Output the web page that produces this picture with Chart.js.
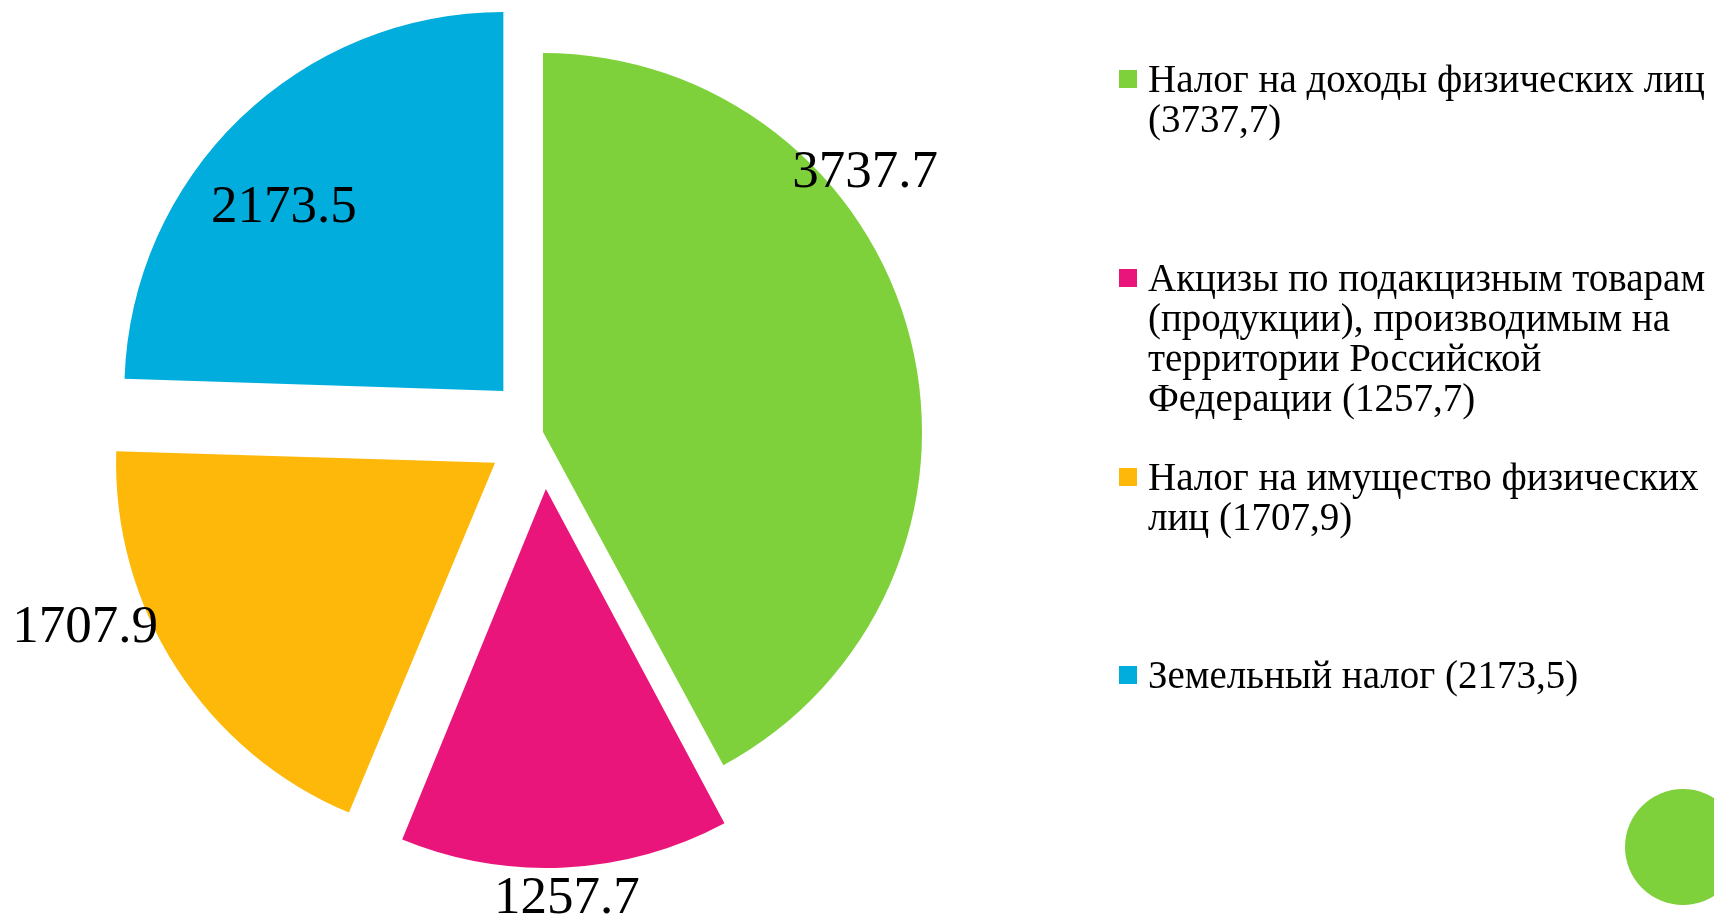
<!DOCTYPE html>
<html>
<head>
<meta charset="utf-8">
<script src="https://cdn.jsdelivr.net/npm/chart.js@4"></script>
<style>
  html, body { margin: 0; padding: 0; background: #fff; overflow: hidden; }
  #wrap { position: absolute; left: 0; top: 0; width: 1714px; height: 921px; }
  #legend { position: absolute; left: 0; top: 0; width: 1714px; height: 921px; font-family: "Liberation Serif", serif; font-size: 39px; color: #000; }
  .item { position: absolute; left: 1148px; white-space: pre; line-height: 40px; }
  .box { position: absolute; left: -29px; top: 11px; width: 18px; height: 18px; }
  #dot { position: absolute; left: 1625px; top: 789px; width: 116px; height: 116px; border-radius: 50%; background: #7FD13B; }
</style>
</head>
<body>
<div id="wrap"><canvas id="taxPie"></canvas></div>
<div id="legend"></div>
<div id="dot"></div>

<script>
// data
const names = [
  "Налог на доходы физических лиц",
  "Акцизы по подакцизным товарам\n(продукции), производимым на\nтерритории Российской\nФедерации",
  "Налог на имущество физических\nлиц",
  "Земельный налог"
];
const values = [3737.7, 1257.7, 1707.9, 2173.5];
const colors = ["#7FD13B", "#EA157A", "#FEB80A", "#00ADDC"];

// how far each slice is pulled out (px), first one stays in place
const explode = [0, 57, 57, 57];
// where the value label sits: share of the slice angle, share of radius
const labelAt = [[0.338, 1.09], [0.5, 1.083], [0.657, 1.166], [0.431, 0.754]];
// legend rows: top of each row, and whether the value goes on a new line
const legendTop = [59, 258, 457, 655];
const valueOnNewLine = [true, false, false, false];

// chart.js moves an arc by offset/4, so 4x the px
let offsets = explode.map((px) => px * 4);

// chart.js also grows an offset arc's radius a bit, take that back off
const keepRadius = {
  id: "keepRadius",
  afterDatasetUpdate(chart, args) {
    let meta = args.meta;
    let base = meta.controller.outerRadius;
    meta.data.forEach((arc, i) => {
      let circ = arc.endAngle - arc.startAngle;
      let fix = 1 - Math.sin(Math.min(Math.PI, circ));
      arc.outerRadius = base - explode[i] * fix;
    });
  }
};

// value labels drawn on top of the slices
const valueLabels = {
  id: "valueLabels",
  afterDatasetsDraw(chart) {
    let ctx = chart.ctx;
    let meta = chart.getDatasetMeta(0);
    let base = meta.controller.outerRadius;
    ctx.save();
    ctx.font = "53px 'Liberation Serif'";
    ctx.fillStyle = "#000";
    ctx.textAlign = "center";
    ctx.textBaseline = "middle";
    meta.data.forEach((arc, i) => {
      let p = arc.getProps(["x", "y", "startAngle", "endAngle"], true);
      let half = (p.startAngle + p.endAngle) / 2;
      let cx = p.x + Math.cos(half) * explode[i];
      let cy = p.y + Math.sin(half) * explode[i];
      let a = p.startAngle + labelAt[i][0] * (p.endAngle - p.startAngle);
      let r = base * labelAt[i][1];
      ctx.fillText(values[i].toFixed(1), cx + Math.cos(a) * r, cy + Math.sin(a) * r);
    });
    ctx.restore();
  }
};

// grab DOM element and create chart
let myChart = document.getElementById("taxPie").getContext("2d");
let chart = new Chart(myChart, {
  type: "pie",
  data: {
    labels: names,
    datasets: [
      {
        data: values,
        backgroundColor: colors,
        borderWidth: 0,
        offset: offsets,
        hoverOffset: 0,
      },
    ],
  },
  options: {
    responsive: true,
    maintainAspectRatio: false,
    animation: false,
    events: [],
    radius: 379,
    layout: {
      padding: { left: 0, right: 628, top: 0, bottom: 57 },
    },
    plugins: {
      legend: { display: false },
      tooltip: { enabled: false },
    },
  },
  plugins: [keepRadius, valueLabels],
});

// html legend on the right
let legend = document.getElementById("legend");
names.forEach((name, i) => {
  let item = document.createElement("div");
  item.className = "item";
  item.style.top = legendTop[i] + "px";
  let value = "(" + values[i].toFixed(1).replace(".", ",") + ")";
  item.textContent = name + (valueOnNewLine[i] ? "\n" : " ") + value;
  let box = document.createElement("div");
  box.className = "box";
  box.style.background = colors[i];
  item.appendChild(box);
  legend.appendChild(item);
});
</script>
</body>
</html>
